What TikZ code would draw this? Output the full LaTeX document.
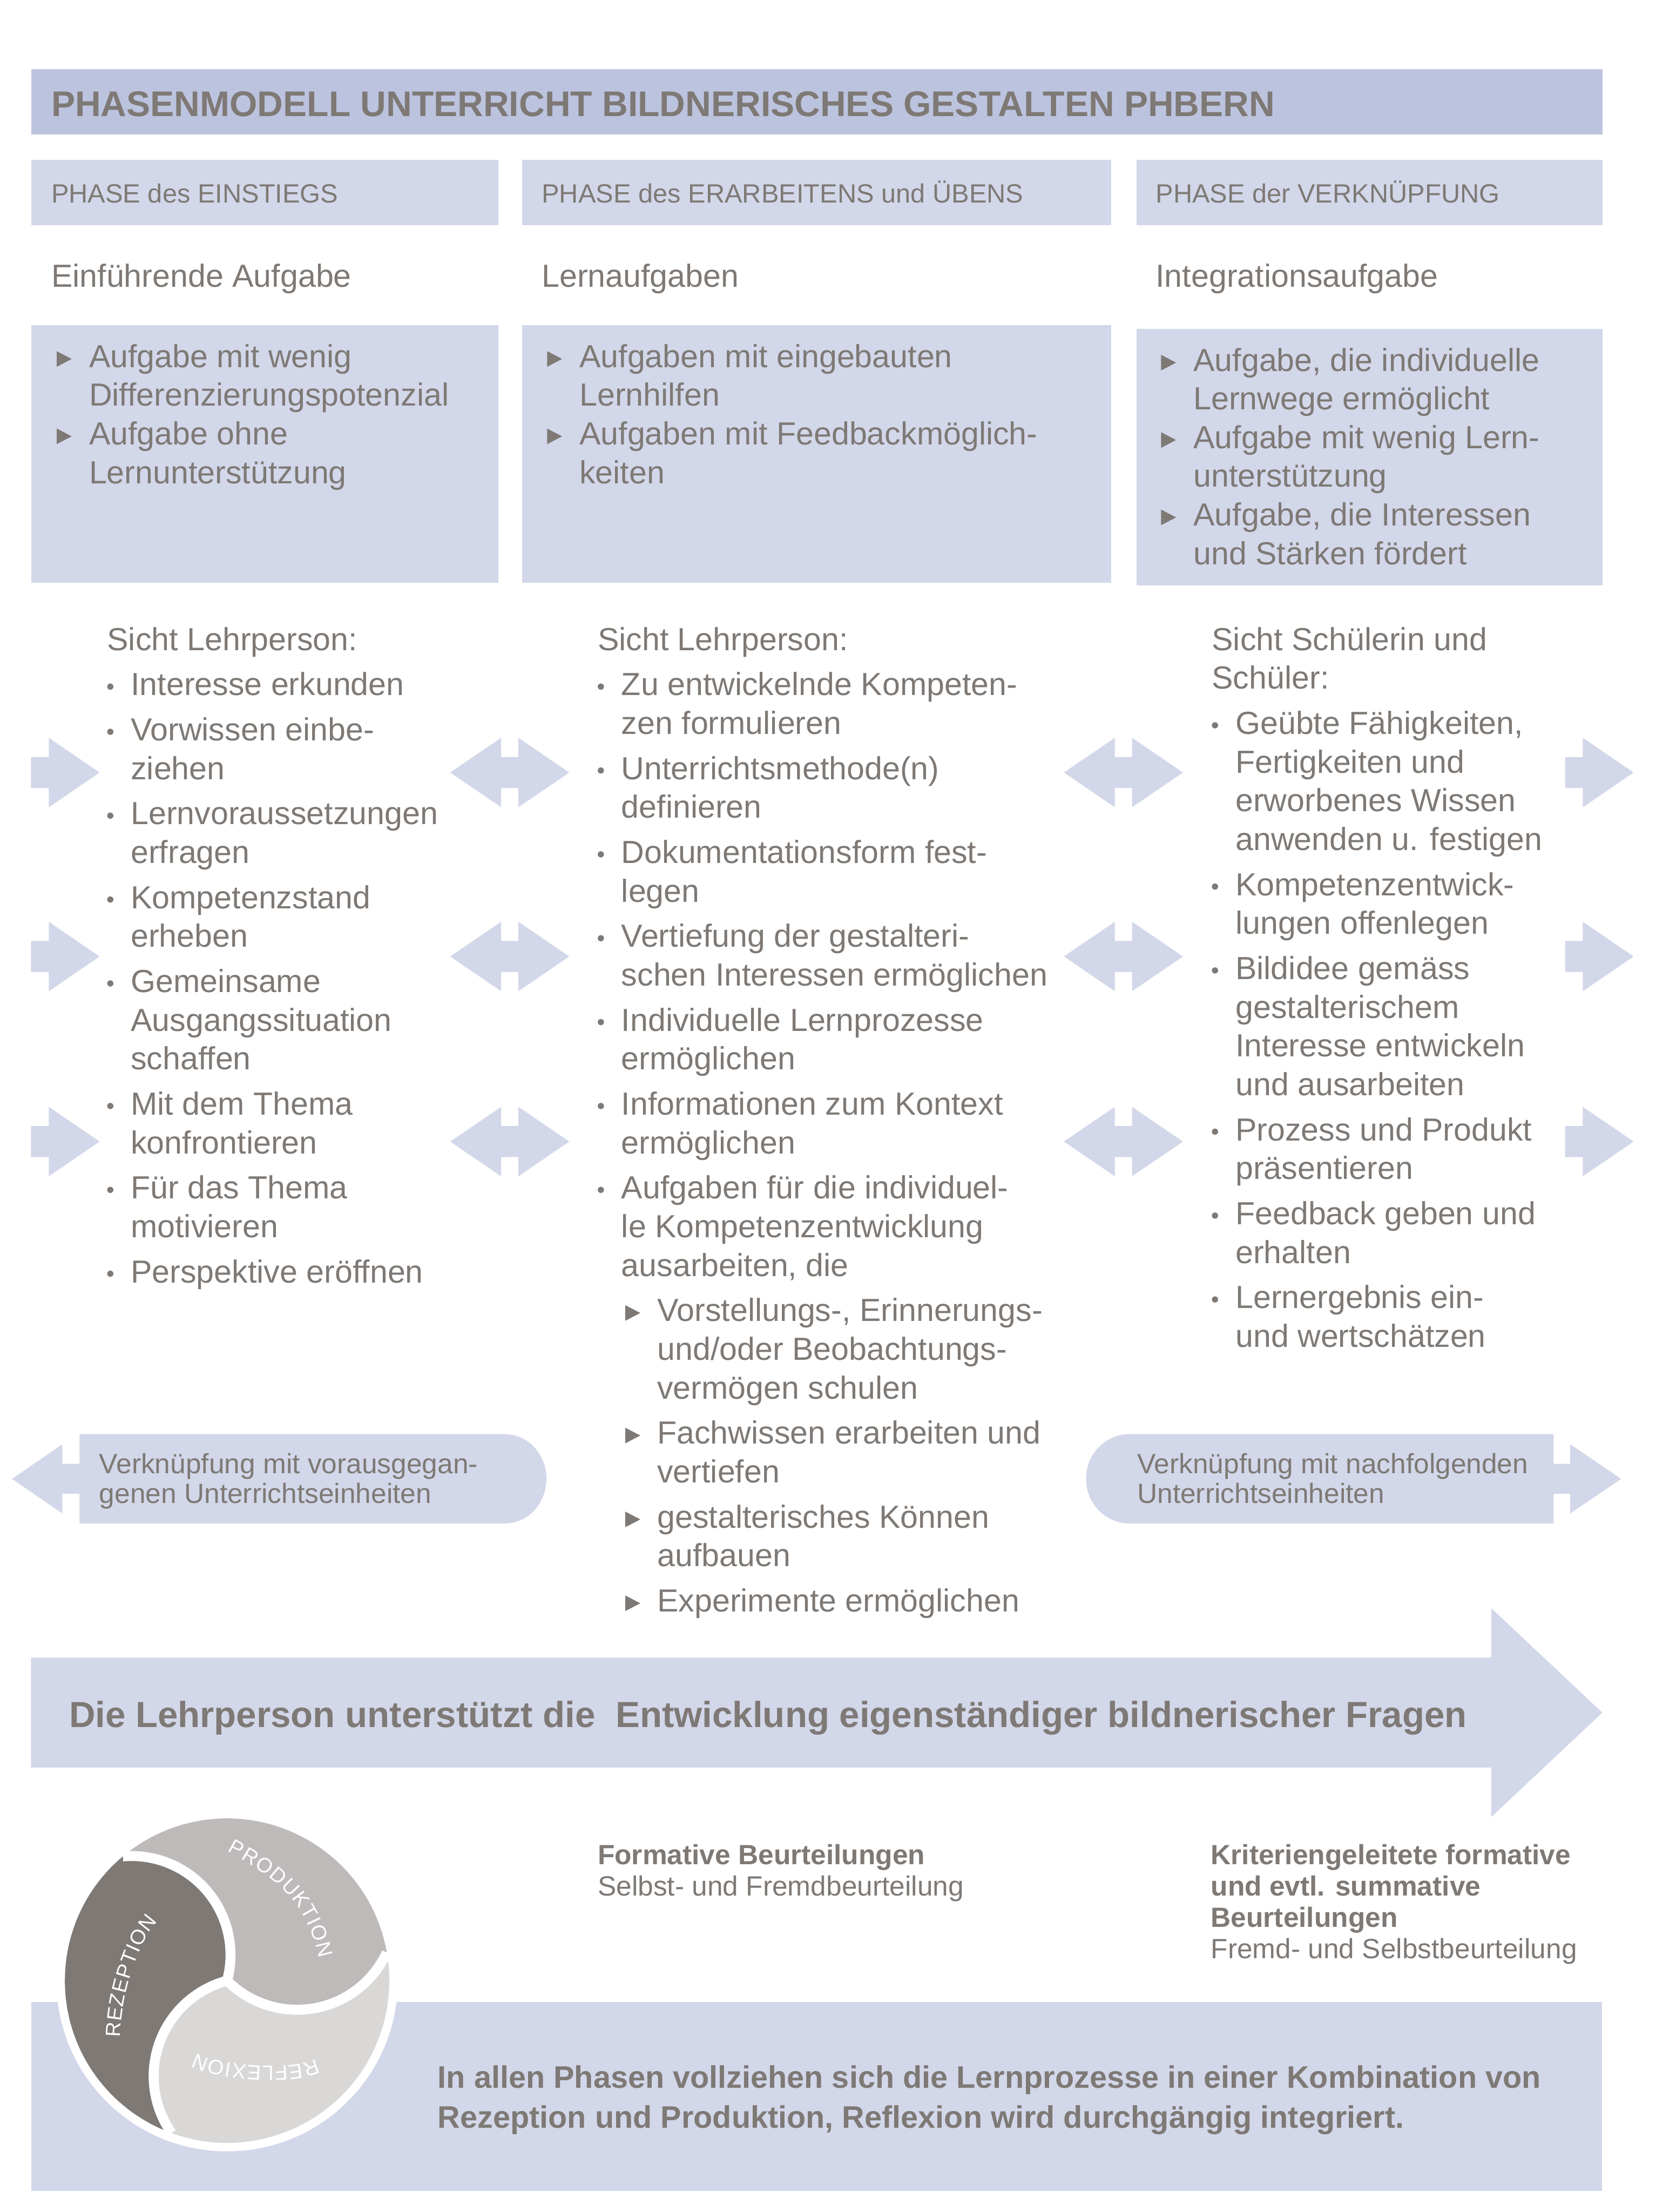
\documentclass[tikz,border=0pt]{standalone}
\usepackage{fontspec}
\setmainfont{Liberation Sans}
\usetikzlibrary{decorations.text}
\definecolor{hdr}{RGB}{188,195,222}
\definecolor{lbox}{RGB}{210,215,233}
\definecolor{txtc}{RGB}{126,121,117}
\definecolor{cdark}{RGB}{126,121,117}
\definecolor{cmid}{RGB}{189,186,185}
\definecolor{clight}{RGB}{217,216,215}
\newcommand{\bul}{\tikz[baseline=0pt]\fill[txtc] (1.5pt,4.3pt) circle[radius=1.5pt];}
\newcommand{\tri}{\tikz[baseline=0pt]\fill[txtc] (0pt,0.3pt) -- (7.2pt,4.05pt) -- (0pt,7.8pt) -- cycle;}
\newcommand{\bitem}[1]{\par\vspace{3.13pt}\hangindent=11.4pt\hangafter=1\noindent\makebox[11.4pt][l]{\bul}#1}
\newcommand{\sitem}[1]{\par\vspace{3.13pt}\hangindent=28.7pt\hangafter=1\noindent\makebox[28.7pt][l]{\hspace{13.3pt}\tri}#1}
\newcommand{\titem}[1]{\par\hangindent=18.2pt\hangafter=1\noindent\makebox[18.2pt][l]{\hspace{2.6pt}\tri}#1}
\newcommand{\bodyfont}{\fontsize{15.4pt}{18.65pt}\selectfont}
\begin{document}
\begin{tikzpicture}[x=0.68pt,y=-0.68pt,
  lbl/.style={anchor=base west, inner sep=0pt, outer sep=0pt, text=txtc},
  boxfill/.style={fill=lbox},
  sarrow/.pic={\fill[lbox] (0,-11) -- (12.6,-11) -- (12.6,-24.6) -- (48.6,0) -- (12.6,24.6) -- (12.6,11) -- (0,11) -- cycle;},
  darrow/.pic={\fill[lbox] (-42.2,0) -- (-6.1,-24.6) -- (-6.1,-11) -- (6.1,-11) -- (6.1,-24.6) -- (42.2,0) -- (6.1,24.6) -- (6.1,11) -- (-6.1,11) -- (-6.1,24.6) -- cycle;},
  gap/.style={draw=white, line width=4.8pt},
  circlbl/.style={decorate, decoration={text along path, text align={fit to path}, text color=white, raise=-3.6pt}}
]
\useasboundingbox (0,0) rectangle (1174,1568);

% header boxes
\fill[hdr] (22.1,48.9) rectangle (1136,95.4);
\fill[boxfill] (22.2,113.4) rectangle (353.2,159.7);
\fill[boxfill] (370.1,113.4) rectangle (788,159.7);
\fill[boxfill] (805.7,113.4) rectangle (1136,159.7);
% task boxes
\fill[boxfill] (22.2,230.3) rectangle (353.2,413);
\fill[boxfill] (370.1,230.3) rectangle (788,413);
\fill[boxfill] (805.7,233.3) rectangle (1136,415);

% arrows in the middle section
\foreach \yy in {547.6,678,809.2} {
  \pic at (22,\yy) {sarrow};
  \pic at (361.4,\yy) {darrow};
  \pic at (796.5,\yy) {darrow};
  \pic at (1109.6,\yy) {sarrow};
}

% Verknuepfung shapes
\fill[lbox] (8.5,1048.3) -- (44.2,1023.8) -- (44.2,1037.6) -- (56.4,1037.6) -- (56.4,1016.6) -- (358,1016.6)
  arc[start angle=-90, end angle=90, x radius=29.4, y radius=31.65] -- (56.4,1079.9) -- (56.4,1058.9) -- (44.2,1058.9) -- (44.2,1072.8) -- cycle;
\fill[lbox] (1149.4,1048.3) -- (1113.3,1023.8) -- (1113.3,1037.6) -- (1101.5,1037.6) -- (1101.5,1016.6) -- (800.7,1016.6)
  arc[start angle=-90, end angle=-270, x radius=30.7, y radius=31.65] -- (1101.5,1079.9) -- (1101.5,1058.9) -- (1113.3,1058.9) -- (1113.3,1072.8) -- cycle;

% big arrow
\fill[lbox] (22,1175) -- (1057.3,1175) -- (1057.3,1140) -- (1136,1214) -- (1057.3,1288) -- (1057.3,1253) -- (22,1253) -- cycle;

% bottom box
\fill[boxfill] (22.1,1419.1) rectangle (1135.7,1553);

% circle
\coordinate (O) at (161,1404);
\fill[white] (O) circle[radius=121];
\fill[cdark] (O) arc[start angle=375.1, end angle=264.9, radius=70.1] arc[start angle=230, end angle=110, radius=115] arc[start angle=144.9, end angle=255.1, radius=70.1] -- cycle;
\fill[cmid] (O) arc[start angle=495.1, end angle=384.9, radius=70.1] arc[start angle=350, end angle=230, radius=115] arc[start angle=264.9, end angle=375.1, radius=70.1] -- cycle;
\fill[clight] (O) arc[start angle=255.1, end angle=144.9, radius=70.1] arc[start angle=110, end angle=-10, radius=115] arc[start angle=24.9, end angle=135.1, radius=70.1] -- cycle;
\draw[gap] (O) arc[start angle=255.1, end angle=144.9, radius=70.1];
\draw[gap] (O) arc[start angle=375.1, end angle=264.9, radius=70.1];
\draw[gap] (O) arc[start angle=495.1, end angle=384.9, radius=70.1];
\path[circlbl, decoration={text={|\fontsize{10pt}{10pt}\selectfont|REZEPTION}}] (80,1444) .. controls (80,1414) and (93.4,1372.6) .. (108,1359);
\path[circlbl, decoration={text={|\fontsize{10pt}{10pt}\selectfont|PRODUKTION}}] (163.5,1307.5) .. controls (202,1328) and (223,1348) .. (231.2,1387);
\path[circlbl, decoration={text={|\fontsize{10pt}{10pt}\selectfont|REFLEXION}}] (225.5,1464) .. controls (210,1474) and (153,1470) .. (137,1460);

% texts
\node[lbl] (title) at (36.4,82.6) {\fontsize{17.2pt}{20pt}\selectfont\bfseries PHASENMODELL UNTERRICHT BILDNERISCHES GESTALTEN PHBERN};
\node[lbl] (ph1) at (36.4,143.6) {\fontsize{12.7pt}{15pt}\selectfont PHASE des EINSTIEGS};
\node[lbl] (ph2) at (384.1,143.6) {\fontsize{12.7pt}{15pt}\selectfont PHASE des ERARBEITENS und ÜBENS};
\node[lbl] (ph3) at (819.4,143.6) {\fontsize{12.7pt}{15pt}\selectfont PHASE der VERKNÜPFUNG};
\node[lbl] (sh1) at (36.4,203.6) {\bodyfont Einführende Aufgabe};
\node[lbl] (sh2) at (384.1,203.6) {\bodyfont Lernaufgaben};
\node[lbl] (sh3) at (819.4,203.6) {\bodyfont Integrationsaufgabe};

\node[lbl] (t1) at (36.4,260.4) {\parbox[t]{300pt}{\bodyfont
  \titem{Aufgabe mit wenig\\Differenzierungspotenzial}
  \titem{Aufgabe ohne\\Lernunterstützung}}};
\node[lbl] (t2) at (384.1,260.4) {\parbox[t]{300pt}{\bodyfont
  \titem{Aufgaben mit eingebauten\\Lernhilfen}
  \titem{Aufgaben mit Feedbackmöglich-\\keiten}}};
\node[lbl] (t3) at (819.4,263) {\parbox[t]{300pt}{\bodyfont
  \titem{Aufgabe, die individuelle\\Lernwege ermöglicht}
  \titem{Aufgabe mit wenig Lern-\\unterstützung}
  \titem{Aufgabe, die Interessen\\und Stärken fördert}}};

\node[lbl] (c1) at (76,461) {\parbox[t]{330pt}{\bodyfont Sicht Lehrperson:
  \bitem{Interesse erkunden}
  \bitem{Vorwissen einbe-\\ziehen}
  \bitem{Lernvoraussetzungen\\erfragen}
  \bitem{Kompetenzstand\\erheben}
  \bitem{Gemeinsame\\Ausgangssituation\\schaffen}
  \bitem{Mit dem Thema\\konfrontieren}
  \bitem{Für das Thema\\motivieren}
  \bitem{Perspektive eröffnen}}};
\node[lbl] (c2) at (423.8,461) {\parbox[t]{330pt}{\bodyfont Sicht Lehrperson:
  \bitem{Zu entwickelnde Kompeten-\\zen formulieren}
  \bitem{Unterrichtsmethode(n)\\definieren}
  \bitem{Dokumentationsform fest-\\legen}
  \bitem{Vertiefung der gestalteri-\\schen Interessen ermöglichen}
  \bitem{Individuelle Lernprozesse\\ermöglichen}
  \bitem{Informationen zum Kontext\\ermöglichen}
  \bitem{Aufgaben für die individuel-\\le Kompetenzentwicklung\\ausarbeiten, die}
  \sitem{Vorstellungs-, Erinnerungs-\\und/oder Beobachtungs-\\vermögen schulen}
  \sitem{Fachwissen erarbeiten und\\vertiefen}
  \sitem{gestalterisches Können\\aufbauen}
  \sitem{Experimente ermöglichen}}};
\node[lbl] (c3) at (859.2,461) {\parbox[t]{330pt}{\bodyfont Sicht Schülerin und\\Schüler:
  \bitem{Geübte Fähigkeiten,\\Fertigkeiten und\\erworbenes Wissen\\anwenden u. festigen}
  \bitem{Kompetenzentwick-\\lungen offenlegen}
  \bitem{Bildidee gemäss\\gestalterischem\\Interesse entwickeln\\und ausarbeiten}
  \bitem{Prozess und Produkt\\präsentieren}
  \bitem{Feedback geben und\\erhalten}
  \bitem{Lernergebnis ein-\\und wertschätzen}}};

\node[lbl] (vl) at (70.4,1044.3) {\parbox[t]{300pt}{\fontsize{13.4pt}{14.5pt}\selectfont Verknüpfung mit vorausgegan-\\genen Unterrichtseinheiten}};
\node[lbl] (vr) at (806.3,1044.3) {\parbox[t]{300pt}{\fontsize{13.4pt}{14.5pt}\selectfont Verknüpfung mit nachfolgenden\\Unterrichtseinheiten}};

\node[lbl] (bt) at (49,1224.5) {\fontsize{17.5pt}{20pt}\selectfont\bfseries Die Lehrperson unterstützt die\ \ Entwicklung eigenständiger bildnerischer Fragen};

\node[lbl] (f1) at (423.8,1321.7) {\parbox[t]{300pt}{\fontsize{13.4pt}{15.06pt}\selectfont\textbf{Formative Beurteilungen}\\Selbst- und Fremdbeurteilung}};
\node[lbl] (f2) at (858.5,1321.7) {\parbox[t]{300pt}{\fontsize{13.4pt}{15.06pt}\selectfont\textbf{Kriteriengeleitete formative}\\\textbf{und evtl. summative}\\\textbf{Beurteilungen}\\Fremd- und Selbstbeurteilung}};

\node[lbl] (bb) at (310.4,1480.3) {\parbox[t]{600pt}{\fontsize{15pt}{19.2pt}\selectfont\bfseries In allen Phasen vollziehen sich die Lernprozesse in einer Kombination von\\Rezeption und Produktion, Reflexion wird durchgängig integriert.}};
\end{tikzpicture}
\end{document}
